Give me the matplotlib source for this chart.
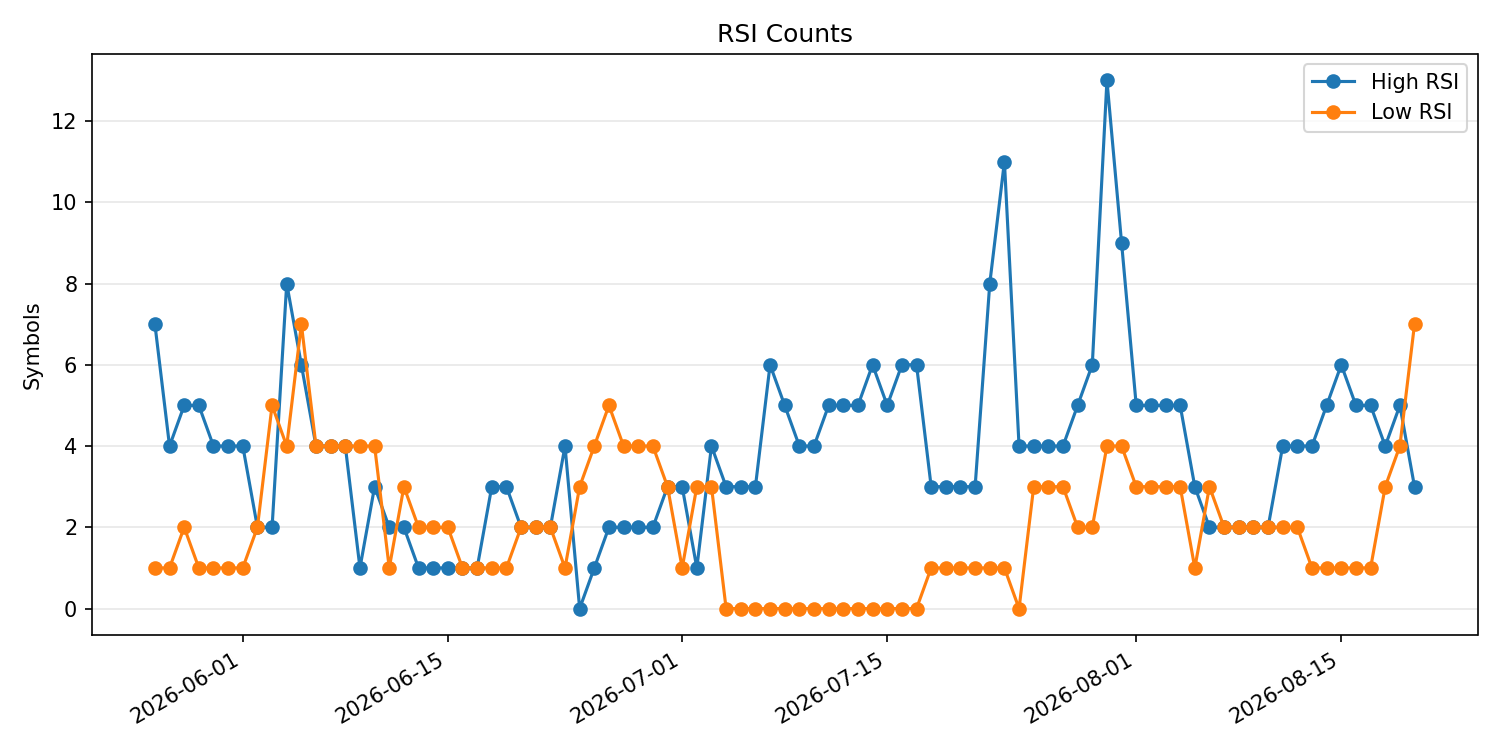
import matplotlib
matplotlib.use("Agg")
import matplotlib.pyplot as plt
import matplotlib.dates as mdates
import pandas as pd

start_date = "2026-05-26"
end_date = "2026-08-20"

high_rsi = [7, 4, 5, 5, 4, 4, 4, 2, 2, 8, 6, 4, 4, 4, 1, 3, 2, 2, 1, 1,
            1, 1, 1, 3, 3, 2, 2, 2, 4, 0, 1, 2, 2, 2, 2, 3, 3, 1, 4, 3,
            3, 3, 6, 5, 4, 4, 5, 5, 5, 6, 5, 6, 6, 3, 3, 3, 3, 8, 11, 4,
            4, 4, 4, 5, 6, 13, 9, 5, 5, 5, 5, 3, 2, 2, 2, 2, 2, 4, 4, 4,
            5, 6, 5, 5, 4, 5, 3]
low_rsi = [1, 1, 2, 1, 1, 1, 1, 2, 5, 4, 7, 4, 4, 4, 4, 4, 1, 3, 2, 2,
           2, 1, 1, 1, 1, 2, 2, 2, 1, 3, 4, 5, 4, 4, 4, 3, 1, 3, 3, 0,
           0, 0, 0, 0, 0, 0, 0, 0, 0, 0, 0, 0, 0, 1, 1, 1, 1, 1, 1, 0,
           3, 3, 3, 2, 2, 4, 4, 3, 3, 3, 3, 1, 3, 2, 2, 2, 2, 2, 2, 1,
           1, 1, 1, 1, 3, 4, 7]

dates = pd.date_range(start_date, end_date, freq="D")

fig, ax = plt.subplots(figsize=(10, 5), dpi=150)
ax.plot(dates, high_rsi, marker="o", label="High RSI", color="#1f77b4")
ax.plot(dates, low_rsi, marker="o", label="Low RSI", color="#ff7f0e")
ax.set_title("RSI Counts")
ax.set_ylabel("Symbols")
ax.grid(axis="y", alpha=0.3)
ax.legend(loc="upper right")
ax.xaxis.set_major_locator(mdates.DayLocator(bymonthday=[1, 15]))
ax.xaxis.set_major_formatter(mdates.DateFormatter("%Y-%m-%d"))
fig.autofmt_xdate()
fig.tight_layout()
fig.savefig("out.png", dpi=150)
